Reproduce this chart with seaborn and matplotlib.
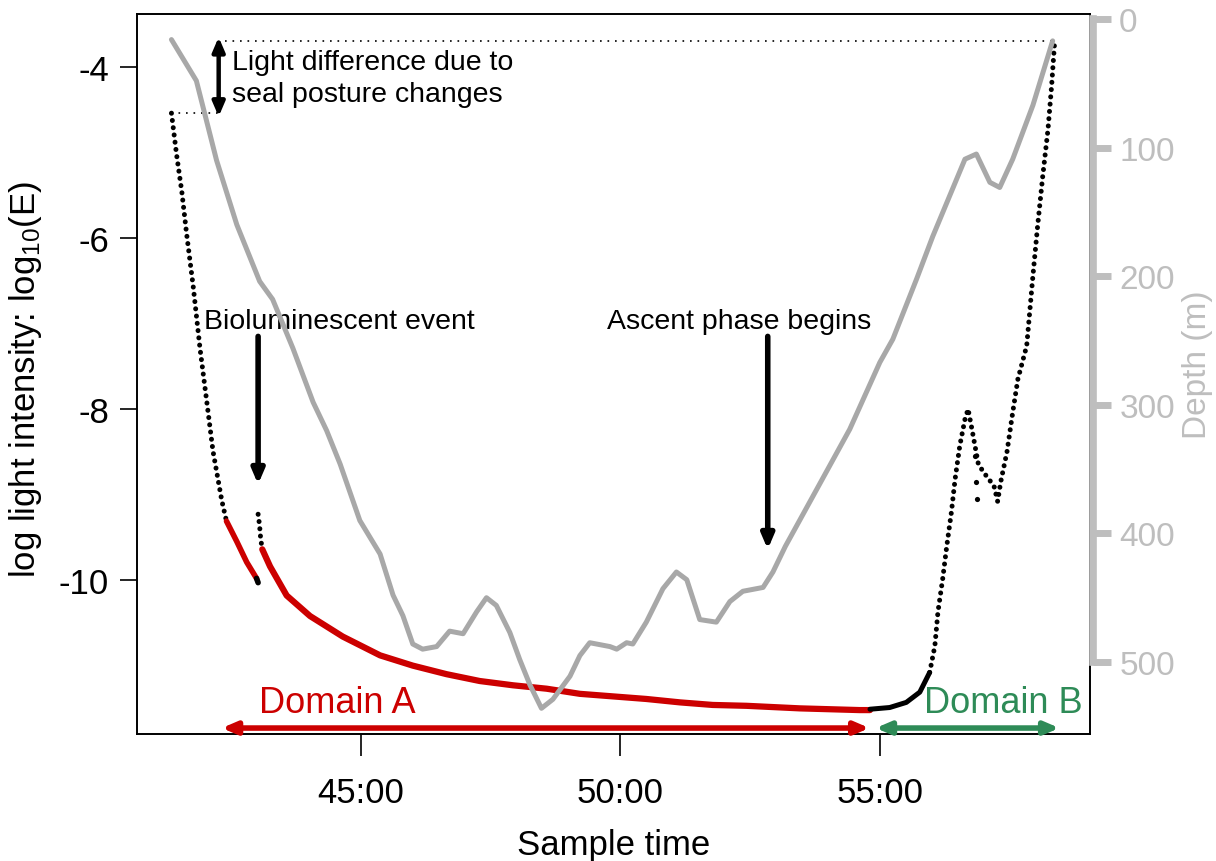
import matplotlib
matplotlib.use("Agg")
import pandas as pd
import matplotlib.pyplot as plt
import seaborn as sns

# dive profile: sample time (minutes) and depth (m)
depth_time = [41.35, 41.83, 42.22, 42.61, 43.05, 43.30, 43.69, 44.08, 44.34, 44.60,
              44.98, 45.37, 45.62, 45.81, 46.00, 46.19, 46.46, 46.71, 46.97, 47.23,
              47.42, 47.61, 47.87, 48.06, 48.26, 48.48, 48.70, 49.03, 49.22, 49.41,
              49.80, 49.93, 50.12, 50.24, 50.50, 50.82, 51.08, 51.28, 51.53, 51.85,
              52.11, 52.36, 52.75, 52.94, 53.18, 53.78, 54.42, 55.00, 55.25, 55.71,
              56.02, 56.64, 56.86, 57.12, 57.31, 57.56, 57.95, 58.33]
depth_m = [16, 48, 110, 160, 204, 218, 256, 298, 320, 346,
           390, 416, 448, 464, 486, 490, 488, 476, 478, 461,
           450, 456, 477, 498, 518, 536, 529, 511, 495, 485,
           488, 490, 485, 486, 469, 443, 430, 436, 467, 469,
           453, 445, 442, 430, 410, 366, 319, 267, 249, 202,
           169, 109, 105, 127, 131, 109, 67, 17]

# light record, log10(E)
desc_time = [41.35, 41.45, 41.55, 41.64, 41.77, 41.90, 42.03, 42.15, 42.32, 42.41]
desc_val = [-4.54, -5.03, -5.46, -5.94, -6.57, -7.29, -7.91, -8.49, -9.07, -9.31]

red1_time = [42.41, 42.61, 42.80, 42.99]
red1_val = [-9.31, -9.55, -9.79, -9.98]
red1_tail_time = [42.99, 43.02]
red1_tail_val = [-9.98, -10.03]

biolum_time = [43.02, 43.05, 43.06, 43.08, 43.10]
biolum_val = [-9.23, -9.37, -9.46, -9.56, -9.64]

red2_time = [43.10, 43.25, 43.57, 44.02, 44.65, 45.37, 46.00, 46.65, 47.29, 47.93,
             48.58, 49.22, 49.86, 50.50, 51.15, 51.78, 52.43, 53.46, 54.61, 54.81]
red2_val = [-9.64, -9.84, -10.18, -10.42, -10.66, -10.88, -11.00, -11.10, -11.18, -11.23,
            -11.27, -11.33, -11.36, -11.39, -11.43, -11.46, -11.47, -11.50, -11.52, -11.52]

asc_base_time = [54.81, 55.19, 55.51, 55.77, 55.96]
asc_base_val = [-11.51, -11.49, -11.43, -11.31, -11.08]
asc_time = [55.96, 56.06, 56.12, 56.21, 56.29, 56.38, 56.45, 56.54, 56.64, 56.70,
            56.77, 56.90, 57.05, 57.20, 57.27, 57.33, 57.45, 57.56, 57.66, 57.83,
            57.95, 58.04, 58.14, 58.24, 58.31, 58.37]
asc_val = [-11.08, -10.77, -10.37, -9.99, -9.60, -9.20, -8.82, -8.43, -8.12, -8.00,
           -8.22, -8.65, -8.78, -8.90, -9.08, -8.85, -8.50, -8.04, -7.65, -7.26,
           -6.44, -5.86, -5.27, -4.73, -4.22, -3.69]
stray_time = [56.84, 56.86, 56.87]
stray_val = [-8.55, -8.85, -9.05]

x_ticks = [45, 50, 55]
x_tick_labels = ["45:00", "50:00", "55:00"]
y_ticks = [-4, -6, -8, -10]
depth_ticks = [0, 100, 200, 300, 400, 500]

RED = "#CC0000"
GREEN = "#2E8B57"
GREY = "#BEBEBE"
LINE_GREY = "#A8A8A8"

sns.set_theme(style="white")
plt.rcParams["font.family"] = ["Liberation Sans", "DejaVu Sans"]
plt.rcParams["mathtext.default"] = "regular"
plt.rcParams["axes.unicode_minus"] = False

fig = plt.figure(figsize=(12.16, 8.62), dpi=100)
ax = fig.add_axes([0.1124, 0.1473, 0.7840, 0.8353])
ax2 = ax.twinx()

dotted = dict(linestyle=(0, (0.01, 1.45)), dash_capstyle="round", lw=3.6, color="black")


def trace(t, v, **kw):
    df = pd.DataFrame({"t": t, "v": v})
    sns.lineplot(data=df, x="t", y="v", ax=ax, sort=False, estimator=None, **kw)


trace(desc_time, desc_val, **dotted)
trace(red1_time, red1_val, color=RED, lw=4)
trace(red1_tail_time, red1_tail_val, color="black", lw=4)
trace(biolum_time, biolum_val, **dotted)
trace(red2_time, red2_val, color=RED, lw=4.5)
trace(asc_base_time, asc_base_val, color="black", lw=3.6)
trace(asc_time, asc_val, **dotted)
sns.scatterplot(x=stray_time, y=stray_val, ax=ax, color="black", s=14, linewidth=0)

# depth profile on the right axis
sns.lineplot(x=depth_time, y=depth_m, ax=ax2, sort=False, estimator=None,
             color=LINE_GREY, lw=3.6)

ax.set_xlim(40.68, 59.05)
ax.set_ylim(-11.80, -3.38)
ax2.set_ylim(556, -3.9)

ax.set_xticks(x_ticks)
ax.set_xticklabels(x_tick_labels)
ax.set_yticks(y_ticks)
ax.set_yticklabels([str(v) for v in y_ticks])
ax.tick_params(axis="x", bottom=True, direction="out", length=16, width=1.2,
               pad=14, labelsize=25, colors="black")
ax.tick_params(axis="y", left=True, direction="out", length=12, width=1.2,
               pad=8, labelsize=25, colors="black")
for s in ax.spines.values():
    s.set_color("black")
    s.set_linewidth(1.4)

ax.set_xlabel("Sample time", fontsize=25, color="black")
ax.set_ylabel("log light intensity: log$_{10}$(E)", fontsize=25, color="black")
ax.xaxis.set_label_coords(0.5, -0.131)
ax.yaxis.set_label_coords(-0.097, 0.494)

ax2.set_yticks(depth_ticks)
ax2.set_yticklabels([str(v) for v in depth_ticks])
ax2.tick_params(axis="y", right=True, direction="out", length=13, width=5,
                pad=6, labelsize=24, colors=GREY)
for k in ["top", "bottom", "left"]:
    ax2.spines[k].set_visible(False)
ax2.spines["right"].set_color(GREY)
ax2.spines["right"].set_linewidth(5.5)
ax2.spines["right"].set_bounds(0, 500)
ax2.spines["right"].set_position(("outward", 2))
ax2.set_ylabel("Depth (m)", fontsize=24, color=GREY)
ax2.yaxis.set_label_coords(1.097, 0.515)

# posture-change annotation
arrow_t = 42.26
ax.plot([arrow_t + 0.12, asc_time[-1]], [asc_val[-1]] * 2, ls=(0, (1, 3.5)), lw=1.2, color="black")
ax.plot([desc_time[0], arrow_t], [desc_val[0]] * 2, ls=(0, (1, 3.5)), lw=1.2, color="black")
ax.annotate("", xy=(arrow_t, asc_val[-1] + 0.04), xytext=(arrow_t, desc_val[0] - 0.04),
            arrowprops=dict(arrowstyle="<|-|>,head_length=0.7,head_width=0.3",
                            lw=3.2, color="black", shrinkA=0, shrinkB=0))
ax.text(42.52, -4.13, "Light difference due to\nseal posture changes",
        fontsize=20.5, ha="left", va="center", linespacing=1.3, color="black")

# event annotations
ax.text(41.97, -6.97, "Bioluminescent event", fontsize=20.5, ha="left", va="center", color="black")
ax.annotate("", xy=(43.02, -8.88), xytext=(43.02, -7.15),
            arrowprops=dict(arrowstyle="-|>,head_length=0.7,head_width=0.3",
                            lw=4, color="black", shrinkA=0, shrinkB=0))
ax.text(49.74, -6.97, "Ascent phase begins", fontsize=20.5, ha="left", va="center", color="black")
ax.annotate("", xy=(52.84, -9.64), xytext=(52.84, -7.15),
            arrowprops=dict(arrowstyle="-|>,head_length=0.7,head_width=0.3",
                            lw=4, color="black", shrinkA=0, shrinkB=0))

# domains
ax.annotate("", xy=(42.32, -11.73), xytext=(54.80, -11.73),
            arrowprops=dict(arrowstyle="<|-|>,head_length=0.7,head_width=0.3",
                            lw=4, color=RED, shrinkA=0, shrinkB=0))
ax.annotate("", xy=(54.92, -11.73), xytext=(58.46, -11.73),
            arrowprops=dict(arrowstyle="<|-|>,head_length=0.7,head_width=0.3",
                            lw=4, color=GREEN, shrinkA=0, shrinkB=0))
ax.text(44.54, -11.43, "Domain A", fontsize=26, color=RED, ha="center", va="center")
ax.text(57.37, -11.43, "Domain B", fontsize=26, color=GREEN, ha="center", va="center")

fig.savefig("out.png", dpi=100)
